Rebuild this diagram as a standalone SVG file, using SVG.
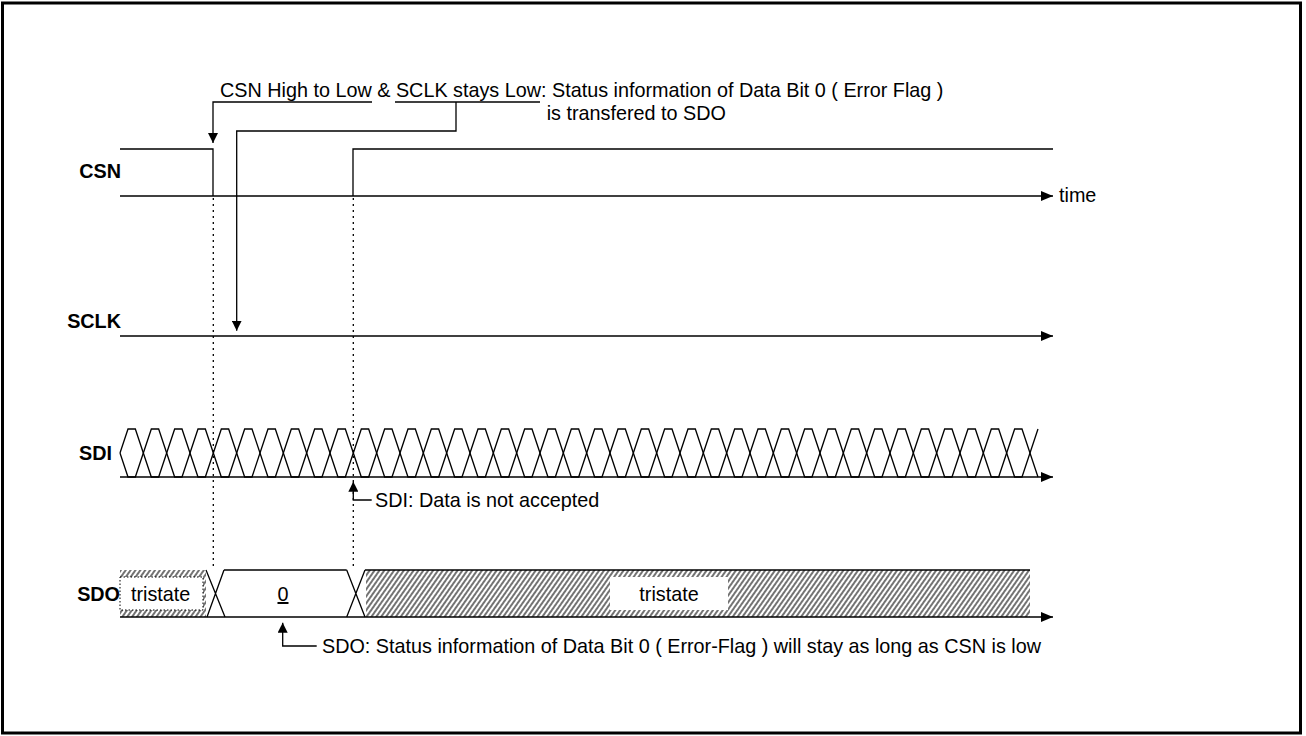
<svg xmlns="http://www.w3.org/2000/svg" width="1306" height="736" viewBox="0 0 1306 736">
<style>
.ln{stroke:#000;stroke-width:1.3;fill:none}
.dot{stroke:#000;stroke-width:1.3;fill:none;stroke-dasharray:2 4}
.lbl{font-family:"Liberation Sans",Arial,sans-serif;font-weight:bold;font-size:19.8px;fill:#000}
.txt{font-family:"Liberation Sans",Arial,sans-serif;font-size:19.8px;fill:#000}
</style>
<defs>
<marker id="ax" markerUnits="userSpaceOnUse" markerWidth="12" markerHeight="10" refX="12" refY="5" orient="auto"><path d="M0,0 L12,5 L0,10 z" fill="#000"/></marker>
<marker id="ah" markerUnits="userSpaceOnUse" markerWidth="10" markerHeight="10" refX="10" refY="5" orient="auto"><path d="M0,0 L10,5 L0,10 z" fill="#000"/></marker>
<pattern id="hatch" patternUnits="userSpaceOnUse" width="4" height="10" patternTransform="rotate(35)"><line x1="2" y1="0" x2="2" y2="10" stroke="#000" stroke-width="1.1"/></pattern>
</defs>
<rect id="frame" x="2.5" y="3" width="1298" height="730" fill="#fff" stroke="#000" stroke-width="3"/>

<g id="csn">
<text class="lbl" x="121" y="178" text-anchor="end">CSN</text>
<path class="ln" d="M120,149 H213 V196"/>
<path class="ln" d="M353,196 V149 H1053"/>
<path class="ln" d="M120,196 H1053" marker-end="url(#ax)"/>
<text class="txt" x="1059" y="202">time</text>
</g>

<g id="sclk">
<text class="lbl" x="121" y="328" text-anchor="end">SCLK</text>
<path class="ln" d="M120,336 H1053" marker-end="url(#ax)"/>
</g>

<g id="sdi">
<text class="lbl" x="112" y="460" text-anchor="end">SDI</text>
<path class="ln" d="M120,453 L128,429 H135.33
l16,48 h7.333 l16,-48 h7.333 l16,48 h7.333 l16,-48 h7.333 l16,48 h7.333 l16,-48 h7.333 l16,48 h7.333 l16,-48 h7.333 l16,48 h7.333 l16,-48 h7.333
l16,48 h7.333 l16,-48 h7.333 l16,48 h7.333 l16,-48 h7.333 l16,48 h7.333 l16,-48 h7.333 l16,48 h7.333 l16,-48 h7.333 l16,48 h7.333 l16,-48 h7.333
l16,48 h7.333 l16,-48 h7.333 l16,48 h7.333 l16,-48 h7.333 l16,48 h7.333 l16,-48 h7.333 l16,48 h7.333 l16,-48 h7.333 l16,48 h7.333 l16,-48 h7.333
l16,48 h7.333 l16,-48 h7.333 l16,48 h7.333 l16,-48 h7.333 l16,48 h7.333 l16,-48 h7.333 l16,48 h7.333 l16,-48 h7.333
l16,48"/>
<path class="ln" d="M120,453 L128,477 H135.33
l16,-48 h7.333 l16,48 h7.333 l16,-48 h7.333 l16,48 h7.333 l16,-48 h7.333 l16,48 h7.333 l16,-48 h7.333 l16,48 h7.333 l16,-48 h7.333 l16,48 h7.333
l16,-48 h7.333 l16,48 h7.333 l16,-48 h7.333 l16,48 h7.333 l16,-48 h7.333 l16,48 h7.333 l16,-48 h7.333 l16,48 h7.333 l16,-48 h7.333 l16,48 h7.333
l16,-48 h7.333 l16,48 h7.333 l16,-48 h7.333 l16,48 h7.333 l16,-48 h7.333 l16,48 h7.333 l16,-48 h7.333 l16,48 h7.333 l16,-48 h7.333 l16,48 h7.333
l16,-48 h7.333 l16,48 h7.333 l16,-48 h7.333 l16,48 h7.333 l16,-48 h7.333 l16,48 h7.333 l16,-48 h7.333 l16,48 h7.333
l16,-48"/>
<path class="ln" d="M120,477 H1053" marker-end="url(#ax)"/>
</g>

<g id="sdo">
<text class="lbl" x="120" y="601" text-anchor="end">SDO</text>
<rect x="120" y="570" width="86" height="47" fill="url(#hatch)"/>
<rect x="120" y="577" width="83" height="33" fill="#fff" stroke="#000" stroke-width="1" stroke-dasharray="1.5 2"/>
<text class="txt" x="131" y="601">tristate</text>
<path class="ln" d="M206,570 L225,617 M207,617 L224,570"/>
<path class="ln" d="M224,570 H346.7"/>
<text class="txt" x="283" y="601" text-anchor="middle" text-decoration="underline">0</text>
<path class="ln" d="M346.7,570 L365,617 M346.7,617 L365,570"/>
<rect x="366" y="570" width="664" height="47" fill="url(#hatch)"/>
<rect x="610" y="577" width="118" height="33" fill="#fff"/>
<text class="txt" x="669" y="601" text-anchor="middle">tristate</text>
<path class="ln" d="M365,570 H1030"/>
<path class="ln" d="M120,617 H1053" marker-end="url(#ax)"/>
</g>

<g id="connectors">
<path class="dot" d="M213.3,198 V568"/>
<path class="dot" d="M353.3,198 V568"/>
<path class="ln" d="M372,102 H213 V143" marker-end="url(#ah)"/>
<path class="ln" d="M395,102 H540"/>
<path class="ln" d="M456,102 V131 H236.7 V330.7" marker-end="url(#ah)"/>
<path class="ln" d="M371.7,500 H353.3 V481.7" marker-end="url(#ah)"/>
<path class="ln" d="M316.7,646 H282.7 V622.7" marker-end="url(#ah)"/>
</g>

<g id="annotations">
<text class="txt" x="220" y="97">CSN High to Low &amp; SCLK stays Low: Status information of Data Bit 0 ( Error Flag )</text>
<text class="txt" x="546.7" y="119.5">is transfered to SDO</text>
<text class="txt" x="375" y="507">SDI: Data is not accepted</text>
<text class="txt" x="322" y="653">SDO: Status information of Data Bit 0 ( Error-Flag ) will stay as long as CSN is low</text>
</g>
</svg>
